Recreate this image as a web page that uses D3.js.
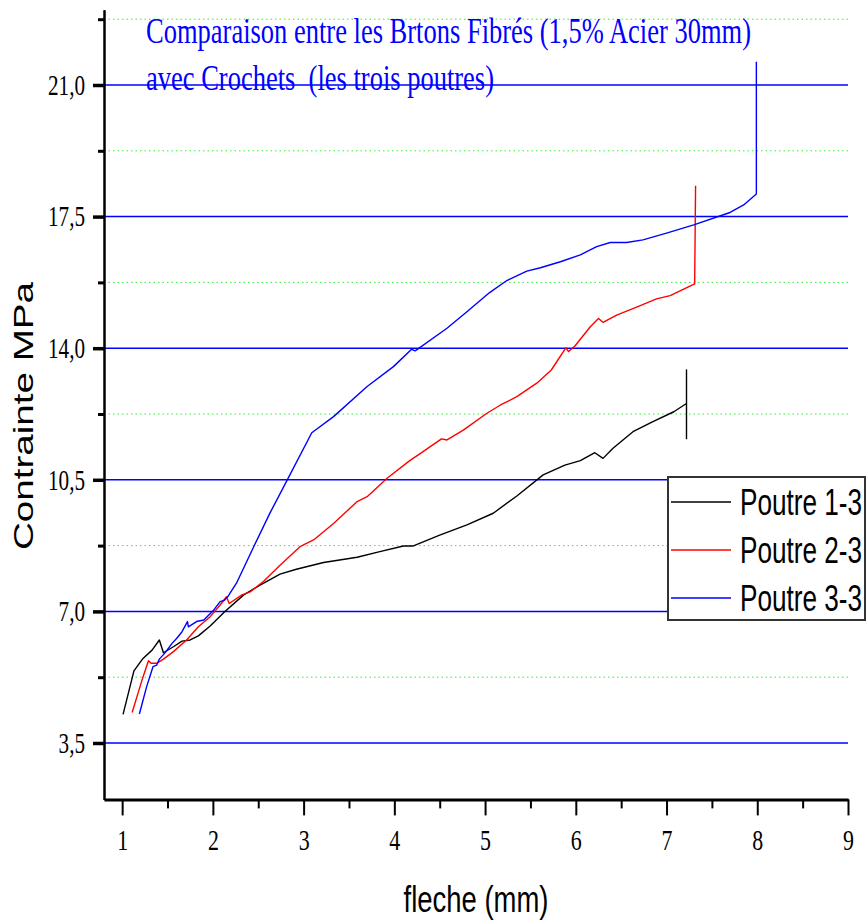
<!DOCTYPE html>
<html lang="fr">
<head>
<meta charset="utf-8">
<title>Comparaison entre les Brtons Fibrés</title>
<style>
    body { margin: 0; background: #fff; }
    svg { display: block; }
    .tick text { font-family: 'Liberation Serif', 'Times New Roman', serif; fill: #000; }
    .title { font-family: 'Liberation Serif', 'Times New Roman', serif; fill: #0000ff; white-space: pre; }
    .axisTitle, .legendText { font-family: 'Liberation Sans', Arial, sans-serif; fill: #000; }
</style>
</head>
<body>
<script src="https://cdn.jsdelivr.net/npm/d3@7"></script>
<script>
    // values (fleche in mm, contrainte in MPa)
    let poutre1X = [1.01, 1.13, 1.23, 1.33, 1.41, 1.455, 1.565, 1.66, 1.75, 1.84, 1.97, 2.13, 2.34, 2.52, 2.74, 2.92,
        3.22, 3.59, 3.84, 4.10, 4.21, 4.50, 4.80, 5.09, 5.35, 5.64, 5.88, 6.05, 6.21, 6.30, 6.41, 6.63, 6.85, 7.08,
        7.22, 7.22, 7.22];
    let poutre1Y = [4.26, 5.42, 5.75, 5.97, 6.24, 5.90, 6.06, 6.21, 6.24, 6.35, 6.61, 6.99, 7.44, 7.70, 7.99, 8.12,
        8.30, 8.44, 8.59, 8.74, 8.74, 9.03, 9.30, 9.61, 10.07, 10.63, 10.89, 11.01, 11.22, 11.07, 11.34, 11.78, 12.05, 12.31,
        12.53, 13.42, 11.58];

    let poutre2X = [1.11, 1.22, 1.29, 1.32, 1.38, 1.455, 1.565, 1.71, 1.84, 1.97, 2.08, 2.15, 2.18, 2.32, 2.41, 2.56,
        2.74, 2.96, 3.11, 3.33, 3.59, 3.70, 3.92, 4.17, 4.28, 4.52, 4.58, 4.76, 5.02, 5.17, 5.35, 5.57, 5.73, 5.89,
        5.92, 5.99, 6.16, 6.25, 6.30, 6.45, 6.67, 6.89, 7.04, 7.31, 7.32];
    let poutre2Y = [4.31, 5.18, 5.69, 5.62, 5.62, 5.73, 5.93, 6.24, 6.59, 6.86, 7.17, 7.39, 7.21, 7.44, 7.52, 7.80,
        8.23, 8.72, 8.90, 9.34, 9.92, 10.05, 10.54, 11.01, 11.19, 11.59, 11.56, 11.82, 12.27, 12.49, 12.71, 13.07, 13.42, 14.01,
        13.91, 14.06, 14.57, 14.79, 14.69, 14.88, 15.09, 15.31, 15.40, 15.71, 18.32];

    let poutre3X = [1.19, 1.27, 1.34, 1.38, 1.41, 1.47, 1.55, 1.60, 1.66, 1.72, 1.73, 1.82, 1.90, 2.01, 2.08, 2.13,
        2.17, 2.26, 2.45, 2.63, 2.81, 3.09, 3.33, 3.70, 3.99, 4.19, 4.23, 4.58, 4.80, 5.05, 5.24, 5.46, 5.61, 5.83,
        6.05, 6.23, 6.38, 6.56, 6.74, 7.00, 7.30, 7.70, 7.85, 7.99, 7.99];
    let poutre3Y = [4.27, 5.00, 5.53, 5.57, 5.73, 5.89, 6.15, 6.28, 6.46, 6.73, 6.59, 6.73, 6.77, 7.04, 7.26, 7.30,
        7.41, 7.75, 8.72, 9.62, 10.45, 11.75, 12.18, 12.98, 13.51, 13.97, 13.93, 14.53, 14.97, 15.48, 15.80, 16.05, 16.14, 16.30,
        16.48, 16.70, 16.81, 16.81, 16.88, 17.06, 17.28, 17.61, 17.81, 18.10, 21.62];

    let seriesNames = ["Poutre 1-3", "Poutre 2-3", "Poutre 3-3"];
    let seriesColors = ["#000000", "#ff0000", "#0000ff"];

    let xTicks = [1, 2, 3, 4, 5, 6, 7, 8, 9];
    let xMinor = [1.5, 2.5, 3.5, 4.5, 5.5, 6.5, 7.5, 8.5];
    let yTicks = [3.5, 7, 10.5, 14, 17.5, 21];
    let yMinor = [5.25, 8.75, 12.25, 15.75, 19.25, 22.75];

    let titleLines = ["Comparaison entre les Brtons Fibrés (1,5% Acier 30mm)", "avec Crochets  (les trois poutres)"];

    let width = 867,
        height = 922;

    // the original picture is stretched vertically, glyphs are narrow
    let squeeze = 0.73;

    let svg = d3.select("body").append("svg")
        .attr("width", width)
        .attr("height", height);

    let x = d3.scaleLinear().domain([0.8, 9]).range([104, 848]);
    let y = d3.scaleLinear().domain([2, 23]).range([799.4, 9.8]);

    // horizontal grid
    svg.append("g").selectAll("line")
        .data(yMinor)
        .enter().append("line")
        .attr("x1", x(0.8)).attr("x2", x(9))
        .attr("y1", d => y(d)).attr("y2", d => y(d))
        .attr("stroke", "#33ee33")
        .attr("stroke-width", 1)
        .attr("stroke-dasharray", "1.5,3");

    svg.append("g").selectAll("line")
        .data(yTicks)
        .enter().append("line")
        .attr("x1", x(0.8)).attr("x2", x(9))
        .attr("y1", d => y(d)).attr("y2", d => y(d))
        .attr("stroke", "#0000ff")
        .attr("stroke-width", 1.5);

    // title
    svg.selectAll(".title")
        .data(titleLines)
        .enter().append("text")
        .attr("class", "title")
        .attr("x", 146)
        .attr("y", (d, i) => 43 + i * 47)
        .attr("textLength", (d, i) => i === 0 ? 605 : 348)
        .attr("lengthAdjust", "spacingAndGlyphs")
        .style("font-size", "35px")
        .text(d => d);

    // curves
    let line = d3.line()
        .x(d => x(d[0]))
        .y(d => y(d[1]));

    let curves = [d3.zip(poutre1X, poutre1Y), d3.zip(poutre2X, poutre2Y), d3.zip(poutre3X, poutre3Y)];

    svg.append("g").selectAll("path")
        .data(curves)
        .enter().append("path")
        .attr("d", line)
        .attr("fill", "none")
        .attr("stroke", (d, i) => seriesColors[i])
        .attr("stroke-width", 1.4)
        .attr("stroke-linejoin", "round");

    // axes, minor ticks first then major ones with labels
    svg.append("g")
        .attr("transform", "translate(0," + y(2) + ")")
        .call(d3.axisBottom(x).tickValues(xMinor).tickSize(9).tickSizeOuter(0).tickFormat(""))
        .call(g => g.selectAll(".tick line").attr("stroke-width", 2));

    let xAxis = svg.append("g")
        .attr("transform", "translate(0," + y(2) + ")")
        .call(d3.axisBottom(x).tickValues(xTicks).tickSize(16).tickSizeOuter(0).tickPadding(13).tickFormat(d3.format("d")));
    xAxis.select(".domain").attr("stroke-width", 3);
    xAxis.selectAll(".tick line").attr("stroke-width", 2);
    xAxis.selectAll(".tick text")
        .style("font-size", "30px")
        .attr("transform", "scale(" + squeeze + ",1)");

    svg.append("g")
        .attr("transform", "translate(" + x(0.8) + ",0)")
        .call(d3.axisLeft(y).tickValues(yMinor).tickSize(6).tickSizeOuter(0).tickFormat(""))
        .call(g => g.selectAll(".tick line").attr("stroke-width", 3));

    let yAxis = svg.append("g")
        .attr("transform", "translate(" + x(0.8) + ",0)")
        .call(d3.axisLeft(y).tickValues(yTicks).tickSize(11).tickSizeOuter(0)
            .tickFormat(d => d3.format(".1f")(d).replace(".", ",")));
    yAxis.select(".domain").attr("stroke-width", 2.5);
    yAxis.selectAll(".tick line").attr("stroke-width", 3.5);
    yAxis.selectAll(".tick text")
        .style("font-size", "29px")
        .attr("x", -19 / squeeze)
        .attr("transform", "scale(" + squeeze + ",1)");

    // axis titles
    svg.append("text")
        .attr("class", "axisTitle")
        .attr("transform", "translate(476,912)")
        .attr("text-anchor", "middle")
        .attr("textLength", 145)
        .attr("lengthAdjust", "spacingAndGlyphs")
        .style("font-size", "37px")
        .text("fleche (mm)");

    svg.append("text")
        .attr("class", "axisTitle")
        .attr("transform", "translate(33,416) rotate(-90)")
        .attr("text-anchor", "middle")
        .attr("textLength", 268)
        .attr("lengthAdjust", "spacingAndGlyphs")
        .style("font-size", "28px")
        .text("Contrainte MPa");

    // legend
    let legend = svg.append("g").attr("transform", "translate(668,477)");
    legend.append("rect")
        .attr("width", 197)
        .attr("height", 143)
        .attr("fill", "#fff")
        .attr("stroke", "#333")
        .attr("stroke-width", 2);

    let rowY = d3.scalePoint().domain(seriesNames).range([25, 121]);

    let rows = legend.selectAll(".row")
        .data(seriesNames)
        .enter().append("g")
        .attr("class", "row")
        .attr("transform", d => "translate(0," + rowY(d) + ")");
    rows.append("line")
        .attr("x1", 3).attr("x2", 63)
        .attr("stroke", (d, i) => seriesColors[i])
        .attr("stroke-width", 1.4);
    rows.append("text")
        .attr("class", "legendText")
        .attr("x", 72)
        .attr("y", 13)
        .attr("textLength", 122)
        .attr("lengthAdjust", "spacingAndGlyphs")
        .style("font-size", "37px")
        .text(d => d);
</script>
</body>
</html>
